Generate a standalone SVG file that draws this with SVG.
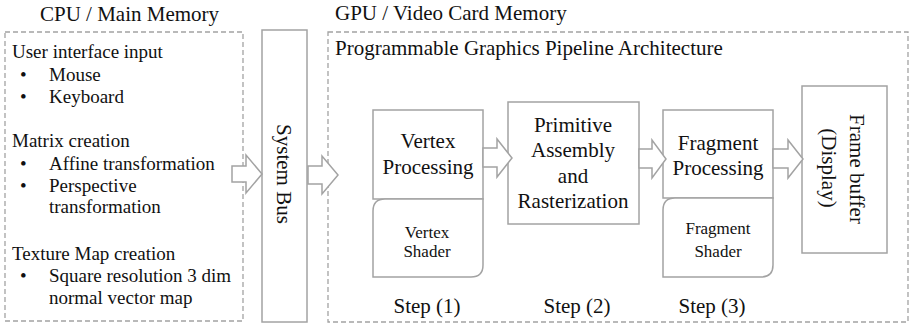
<svg xmlns="http://www.w3.org/2000/svg" width="911" height="324" viewBox="0 0 911 324">
<style>
text{font-family:"Liberation Serif","Times New Roman",serif;fill:#111}
.t{font-size:19px}
.h{font-size:21px}
.s{font-size:17px}
.m{text-anchor:middle}
.box{fill:#fff;stroke:#a3a3a3;stroke-width:1.5}
.dash{fill:none;stroke:#a3a3a3;stroke-width:1.3;stroke-dasharray:5 3}
.arr{fill:#fff;stroke:#a3a3a3;stroke-width:1.5;stroke-linejoin:miter}
</style>
<rect width="911" height="324" fill="#fff"/>
<g id="cpu">
<text class="h" x="40" y="21">CPU / Main Memory</text>
<rect class="dash" x="5" y="32" width="238" height="289"/>
<text class="t" x="12" y="58">User interface  input</text>
<text class="t" x="20" y="81">•</text><text class="t" x="49" y="81">Mouse</text>
<text class="t" x="20" y="103">•</text><text class="t" x="49" y="103">Keyboard</text>
<text class="t" x="12" y="147">Matrix  creation</text>
<text class="t" x="20" y="170">•</text><text class="t" x="49" y="170">Affine transformation</text>
<text class="t" x="20" y="192">•</text><text class="t" x="49" y="192">Perspective</text>
<text class="t" x="49" y="213">transformation</text>
<text class="t" x="12" y="260">Texture Map creation</text>
<text class="t" x="20" y="282">•</text><text class="t" x="49" y="282">Square resolution 3 dim</text>
<text class="t" x="49" y="304">normal vector map</text>
</g>
<g id="bus">
<rect class="box" x="262" y="30" width="45" height="292"/>
<text class="h m" transform="translate(284,174) rotate(90)" dy="0.33em">System Bus</text>
</g>
<g id="gpu">
<text class="h" x="335" y="20">GPU / Video Card Memory</text>
<rect class="dash" x="328" y="32" width="580" height="290"/>
<text class="h" x="335" y="55">Programmable Graphics Pipeline Architecture</text>
</g>
<g id="vertex">
<rect class="box" x="373" y="110" width="110" height="89"/>
<text class="h m" x="428" y="148">Vertex</text>
<text class="h m" x="428" y="174">Processing</text>
<path class="box" d="M373,277 L373,211 Q373,199 385,199 L483,199 L483,265 Q483,277 471,277 Z"/>
<text class="s m" x="427" y="238">Vertex</text>
<text class="s m" x="427" y="257">Shader</text>
<text class="h m" x="427" y="313">Step (1)</text>
</g>
<g id="primitive">
<rect class="box" x="508" y="102" width="131" height="122"/>
<text class="h m" x="573" y="132">Primitive</text>
<text class="h m" x="573" y="157">Assembly</text>
<text class="h m" x="573" y="183">and</text>
<text class="h m" x="573" y="208">Rasterization</text>
<text class="h m" x="577" y="313">Step (2)</text>
</g>
<g id="fragment">
<rect class="box" x="663" y="110" width="110" height="88"/>
<text class="h m" x="718" y="150">Fragment</text>
<text class="h m" x="718" y="175">Processing</text>
<path class="box" d="M663,277 L663,210 Q663,198 675,198 L773,198 L773,265 Q773,277 761,277 Z"/>
<text class="s m" x="718" y="234">Fragment</text>
<text class="s m" x="718" y="257">Shader</text>
<text class="h m" x="712" y="313">Step (3)</text>
</g>
<g id="framebuffer">
<rect class="box" x="802" y="86" width="85" height="167"/>
<text class="h m" transform="translate(857,169) rotate(90)" dy="0.33em">Frame buffer</text>
<text class="h m" transform="translate(829,168) rotate(90)" dy="0.33em">(Display)</text>
</g>
<g id="connectors">
<path class="arr" d="M232,166 L246,166 L246,155 L262,174 L246,193 L246,182 L232,182 Z"/>
<path class="arr" d="M308,166 L322,166 L322,156 L338,175 L322,194 L322,184 L308,184 Z"/>
<path class="arr" d="M483,148 L497,148 L497,139 L512,158 L497,177 L497,167 L483,167 Z"/>
<path class="arr" d="M639,149 L652,149 L652,140 L666,159 L652,178 L652,168 L639,168 Z"/>
<path class="arr" d="M773,149 L788,149 L788,140 L803,159 L788,178 L788,168 L773,168 Z"/>
</g>
</svg>
